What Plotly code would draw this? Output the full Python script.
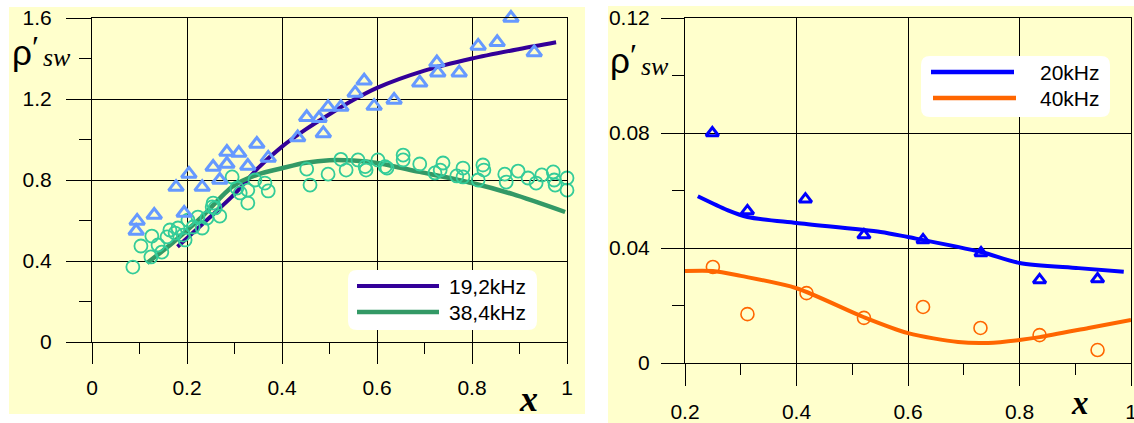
import plotly.graph_objects as go

W, H = 1134, 423

# ---------------- data: left panel ----------------
tri_left_x = [0.093, 0.095, 0.131, 0.177, 0.194, 0.204, 0.232, 0.255, 0.269, 0.284, 0.284,
              0.309, 0.328, 0.347, 0.371, 0.433, 0.452, 0.478, 0.487, 0.497, 0.524, 0.554,
              0.573, 0.594, 0.636, 0.690, 0.726, 0.728, 0.773, 0.813, 0.853, 0.882, 0.931]
tri_left_y = [0.548, 0.598, 0.627, 0.765, 0.637, 0.830, 0.765, 0.864, 0.800, 0.879, 0.938,
              0.933, 0.869, 0.978, 0.909, 1.010, 1.110, 1.105, 1.030, 1.160, 1.160, 1.230,
              1.290, 1.165, 1.195, 1.280, 1.380, 1.330, 1.330, 1.462, 1.480, 1.600, 1.430]

circ_left_x = [0.086, 0.103, 0.124, 0.126, 0.139, 0.147, 0.158, 0.164, 0.175, 0.181, 0.192,
               0.196, 0.202, 0.213, 0.223, 0.232, 0.242, 0.253, 0.255, 0.259, 0.269, 0.295,
               0.305, 0.312, 0.328, 0.328, 0.343, 0.364, 0.371,
               0.452, 0.459, 0.497, 0.524, 0.535, 0.560, 0.575, 0.577, 0.602, 0.617, 0.621,
               0.655, 0.655, 0.690, 0.722, 0.733, 0.739, 0.768, 0.781, 0.781, 0.813, 0.823,
               0.825, 0.869, 0.872, 0.897, 0.918, 0.935, 0.947, 0.971, 0.973, 0.975, 1.000,
               1.000, 1.030]
circ_left_y = [0.370, 0.474, 0.420, 0.523, 0.479, 0.444, 0.519, 0.553, 0.538, 0.563, 0.528,
               0.504, 0.602, 0.568, 0.617, 0.563, 0.612, 0.667, 0.686, 0.662, 0.622, 0.815,
               0.760, 0.736, 0.750, 0.686, 0.800, 0.785, 0.746,
               0.854, 0.775, 0.829, 0.902, 0.849, 0.899, 0.866, 0.849, 0.899, 0.866, 0.859,
               0.923, 0.899, 0.879, 0.835, 0.849, 0.884, 0.820, 0.859, 0.815, 0.800, 0.874,
               0.849, 0.829, 0.790, 0.844, 0.810, 0.785, 0.825, 0.840, 0.800, 0.775, 0.810,
               0.750, 0.760]

fit19_x = [0.18, 0.25, 0.30, 0.35, 0.40, 0.45, 0.50, 0.55, 0.60, 0.70, 0.80, 0.90, 0.977]
fit19_y = [0.47, 0.62, 0.73, 0.86, 0.965, 1.05, 1.125, 1.195, 1.255, 1.34, 1.40, 1.447, 1.48]

fit38_x = [0.116, 0.17, 0.23, 0.297, 0.35, 0.40, 0.45, 0.50, 0.55, 0.60, 0.69, 0.80, 0.886, 0.996]
fit38_y = [0.39, 0.49, 0.615, 0.77, 0.828, 0.858, 0.885, 0.898, 0.896, 0.884, 0.84, 0.785, 0.73, 0.642]

left_names = ["19,2kHz", "38,4kHz"]

# ---------------- data: right panel ----------------
tri_right_x = [0.249, 0.312, 0.416, 0.521, 0.627, 0.731, 0.836, 0.940]
tri_right_y = [0.0800, 0.0529, 0.0570, 0.0445, 0.0428, 0.0383, 0.0289, 0.0292]

circ_right_x = [0.250, 0.312, 0.418, 0.521, 0.627, 0.730, 0.836, 0.940]
circ_right_y = [0.0334, 0.0170, 0.0243, 0.0157, 0.0195, 0.0122, 0.0097, 0.0045]

fit20_x = [0.223, 0.276, 0.312, 0.40, 0.551, 0.60, 0.731, 0.80, 0.906, 0.987]
fit20_y = [0.058, 0.0532, 0.0508, 0.0487, 0.0456, 0.0438, 0.0386, 0.0348, 0.0330, 0.0317]

fit40_x = [0.20, 0.25, 0.30, 0.40, 0.52, 0.60, 0.69, 0.744, 0.80, 0.836, 0.924, 1.00]
fit40_y = [0.032, 0.032, 0.0303, 0.026, 0.016, 0.0104, 0.0073, 0.0070, 0.0080, 0.0090, 0.0122, 0.015]

right_names = ["20kHz", "40kHz"]

# ---------------- styles ----------------
YELLOW = "#FFFFCC"
TRI_L = "#6699FF"
CIRC_L = "#33CC99"
LINE19 = "#330099"
LINE38 = "#339966"
BLUE = "#0000FF"
ORANGE = "#FF6600"
FONT = "Liberation Sans"
SERIF = "Liberation Serif"


def px(x):
    return x / W


def py(y):
    return 1 - y / H


fig = go.Figure()

# left panel
fig.add_trace(go.Scatter(x=fit19_x, y=fit19_y, mode="lines", line=dict(color=LINE19, width=4, shape="spline", smoothing=0.8),
                         xaxis="x", yaxis="y", showlegend=False))
fig.add_trace(go.Scatter(x=fit38_x, y=fit38_y, mode="lines", line=dict(color=LINE38, width=4.5, shape="spline", smoothing=0.8),
                         xaxis="x", yaxis="y", showlegend=False))
fig.add_trace(go.Scatter(x=circ_left_x, y=circ_left_y, mode="markers", cliponaxis=False,
                         marker=dict(symbol="circle-open", size=13, color=CIRC_L, line=dict(width=1.8, color=CIRC_L)),
                         xaxis="x", yaxis="y", showlegend=False))
fig.add_trace(go.Scatter(x=tri_left_x, y=tri_left_y, mode="markers", cliponaxis=False,
                         marker=dict(symbol="triangle-up-open", size=13, color=TRI_L, line=dict(width=3, color=TRI_L)),
                         xaxis="x", yaxis="y", showlegend=False))

# right panel
fig.add_trace(go.Scatter(x=fit20_x, y=fit20_y, mode="lines", line=dict(color=BLUE, width=4, shape="spline", smoothing=0.8),
                         xaxis="x2", yaxis="y2", showlegend=False))
fig.add_trace(go.Scatter(x=fit40_x, y=fit40_y, mode="lines", line=dict(color=ORANGE, width=4, shape="spline", smoothing=0.8),
                         xaxis="x2", yaxis="y2", showlegend=False))
fig.add_trace(go.Scatter(x=circ_right_x, y=circ_right_y, mode="markers", cliponaxis=False,
                         marker=dict(symbol="circle-open", size=13, color=ORANGE, line=dict(width=1.6, color=ORANGE)),
                         xaxis="x2", yaxis="y2", showlegend=False))
fig.add_trace(go.Scatter(x=tri_right_x, y=tri_right_y, mode="markers", cliponaxis=False,
                         marker=dict(symbol="triangle-up-open", size=11, color=BLUE, line=dict(width=3, color=BLUE)),
                         xaxis="x2", yaxis="y2", showlegend=False))

tickfont = dict(family=FONT, size=21, color="black")
common_axis = dict(showgrid=True, gridcolor="black", gridwidth=1, zeroline=False,
                   showline=True, linecolor="black", linewidth=1, mirror=True, automargin=False,
                   ticks="outside", tickcolor="black", tickwidth=1, tickfont=tickfont)

fig.update_layout(
    width=W, height=H, autosize=False,
    margin=dict(l=0, r=0, t=0, b=0, pad=0, autoexpand=False),
    paper_bgcolor="white", plot_bgcolor=YELLOW,
    xaxis=dict(domain=[px(92), px(567)], range=[0, 1], anchor="y", tickvals=[0, 0.2, 0.4, 0.6, 0.8, 1],
               ticktext=["0", "0.2", "0.4", "0.6", "0.8", "1"], ticklen=21, ticklabelstandoff=6,
               minor=dict(tickvals=[0.1, 0.3, 0.5, 0.7, 0.9], ticklen=11, ticks="outside", tickcolor="black", showgrid=False),
               **common_axis),
    yaxis=dict(domain=[py(342), py(18)], range=[0, 1.6], anchor="x", tickvals=[0, 0.4, 0.8, 1.2, 1.6],
               ticktext=["0", "0.4", "0.8", "1.2", "1.6"], ticklen=25, ticklabelstandoff=10,
               minor=dict(tickvals=[0.2, 0.6, 1.0, 1.4], ticklen=12, ticks="outside", tickcolor="black", showgrid=False),
               **common_axis),
    xaxis2=dict(domain=[px(685), px(1131)], range=[0.2, 1.0], anchor="y2", tickvals=[0.2, 0.4, 0.6, 0.8, 1.0],
                ticktext=["0.2", "0.4", "0.6", "0.8", "1"], ticklen=22, ticklabelstandoff=8,
                ticklabeloverflow="allow",
                minor=dict(tickvals=[0.3, 0.5, 0.7, 0.9], ticklen=11, ticks="outside", tickcolor="black", showgrid=False),
                **common_axis),
    yaxis2=dict(domain=[py(363), py(18)], range=[0, 0.12], anchor="x2", tickvals=[0, 0.04, 0.08, 0.12],
                ticktext=["0", "0.04", "0.08", "0.12"], ticklen=23, ticklabelstandoff=7,
                minor=dict(tickvals=[0.02, 0.06, 0.10], ticklen=12, ticks="outside", tickcolor="black", showgrid=False),
                **common_axis),
)

shapes = []
# yellow panel backgrounds
shapes.append(dict(type="rect", xref="paper", yref="paper", x0=px(9), x1=px(585), y0=py(414), y1=py(7),
                   fillcolor=YELLOW, line=dict(width=0), layer="below"))
shapes.append(dict(type="rect", xref="paper", yref="paper", x0=px(608), x1=px(1134), y0=py(423), y1=py(6),
                   fillcolor=YELLOW, line=dict(width=0), layer="below"))


def rounded_box(x0, y0, x1, y1, r=9):
    # pixel coords -> paper path with rounded corners
    def P(x, y):
        return f"{px(x):.5f},{py(y):.5f}"
    return ("M " + P(x0 + r, y0) + " L " + P(x1 - r, y0) + " Q " + P(x1, y0) + " " + P(x1, y0 + r) +
            " L " + P(x1, y1 - r) + " Q " + P(x1, y1) + " " + P(x1 - r, y1) +
            " L " + P(x0 + r, y1) + " Q " + P(x0, y1) + " " + P(x0, y1 - r) +
            " L " + P(x0, y0 + r) + " Q " + P(x0, y0) + " " + P(x0 + r, y0) + " Z")


# legend boxes
shapes.append(dict(type="path", xref="paper", yref="paper", path=rounded_box(348, 270, 537, 330),
                   fillcolor="white", line=dict(width=0), layer="above"))
shapes.append(dict(type="path", xref="paper", yref="paper", path=rounded_box(921, 56, 1110, 117),
                   fillcolor="white", line=dict(width=0), layer="above"))
# legend line samples
for (x0, x1, y, c, w) in [(357, 439, 286, LINE19, 4), (357, 439, 312, LINE38, 4.5),
                          (931, 1014, 72, BLUE, 4.5), (933, 1016, 98, ORANGE, 4.5)]:
    shapes.append(dict(type="line", xref="paper", yref="paper", x0=px(x0), x1=px(x1), y0=py(y), y1=py(y),
                       line=dict(color=c, width=w), layer="above"))
fig.update_layout(shapes=shapes)

ann = []
legfont = dict(family=FONT, size=21, color="black")
for name, y in zip(left_names, [286, 312]):
    ann.append(dict(xref="paper", yref="paper", x=px(447), y=py(y), text=name, showarrow=False,
                    xanchor="left", yanchor="middle", font=legfont))
for name, y in zip(right_names, [72, 98]):
    ann.append(dict(xref="paper", yref="paper", x=px(1102), y=py(y), text=name, showarrow=False,
                    xanchor="right", yanchor="middle", font=legfont))

# y-axis titles  rho' sw
for (xr, yb) in [(10, 65), (608, 73)]:
    ann.append(dict(xref="paper", yref="paper", x=px(xr), y=py(yb - 12), text="ρ", showarrow=False,
                    xanchor="left", yanchor="middle", font=dict(family=FONT, size=35, color="black")))
    ann.append(dict(xref="paper", yref="paper", x=px(xr + 20), y=py(yb - 18), text="′", showarrow=False,
                    xanchor="left", yanchor="middle", font=dict(family=SERIF, size=32, color="black")))
    ann.append(dict(xref="paper", yref="paper", x=px(xr + 31), y=py(yb - 7), text="<i>sw</i>", showarrow=False,
                    xanchor="left", yanchor="middle", font=dict(family=SERIF, size=26, color="black")))

# x-axis titles
for (xc, yc, fs) in [(528, 399, 36), (1080, 403, 33)]:
    ann.append(dict(xref="paper", yref="paper", x=px(xc), y=py(yc), text="<b><i>x</i></b>", showarrow=False,
                    xanchor="center", yanchor="middle", font=dict(family=SERIF, size=fs, color="black")))

fig.update_layout(annotations=ann)

fig.write_html("out.html", config={"displayModeBar": False},
               post_script="document.body.style.margin='0';document.body.style.overflow='hidden';")
